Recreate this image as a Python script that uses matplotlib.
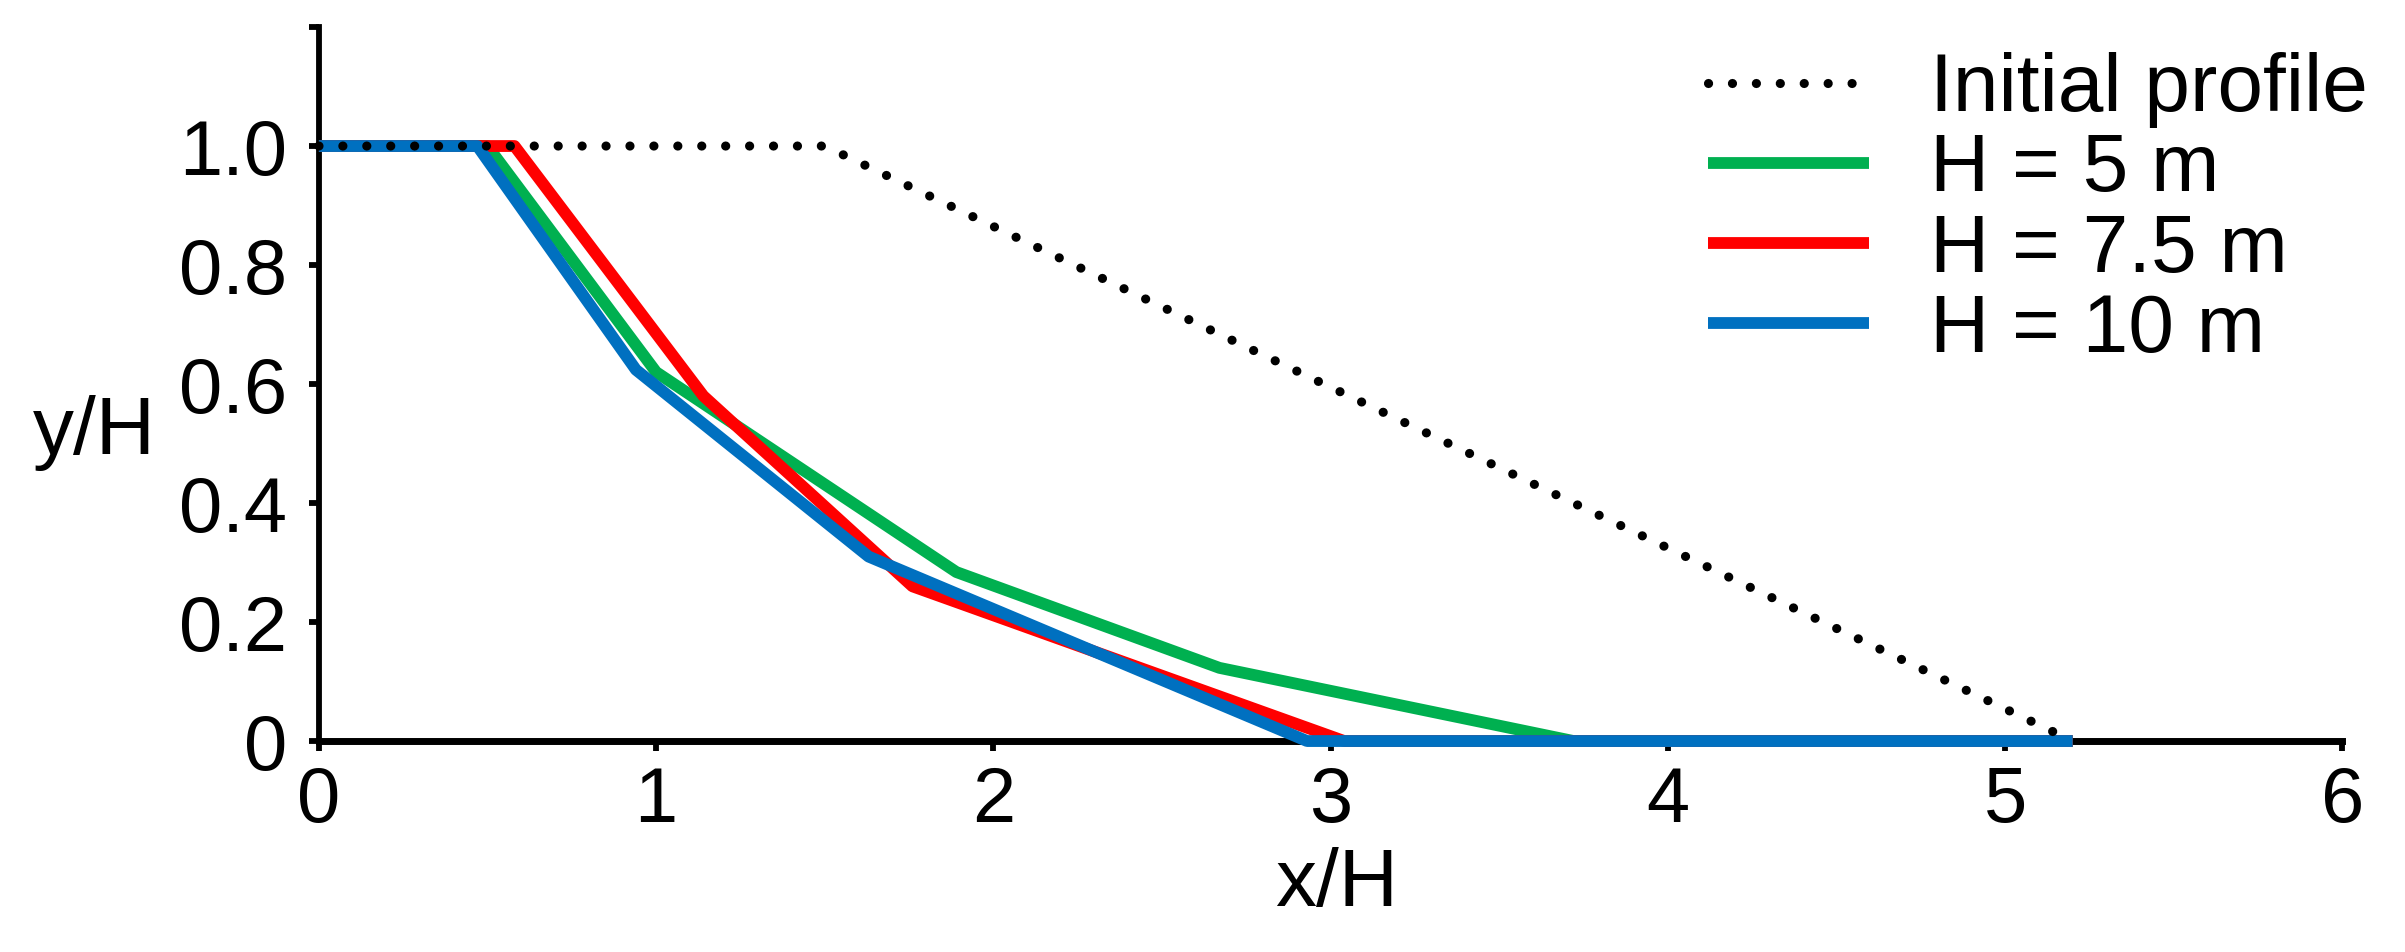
import matplotlib
matplotlib.use("Agg")
import matplotlib.pyplot as plt

plt.rcParams['font.family'] = ['Liberation Sans', 'DejaVu Sans']

# Data (x/H, y/H)
init_x = [0.0, 1.5, 5.2]
init_y = [1.0, 1.0, 0.0]

h5_x = [0.0, 0.50, 1.00, 1.89, 2.67, 3.72, 5.2]
h5_y = [1.0, 1.00, 0.62, 0.284, 0.123, 0.0, 0.0]

h75_x = [0.0, 0.58, 1.14, 1.76, 3.04, 5.2]
h75_y = [1.0, 1.00, 0.58, 0.26, 0.0, 0.0]

h10_x = [0.0, 0.47, 0.94, 1.63, 2.93, 5.2]
h10_y = [1.0, 1.00, 0.624, 0.31, 0.0, 0.0]

labels = ["Initial profile", "H = 5 m", "H = 7.5 m", "H = 10 m"]
colors = ["black", "#00B050", "#FF0000", "#0070C0"]

xticks = [0, 1, 2, 3, 4, 5, 6]
yticks = [0, 0.2, 0.4, 0.6, 0.8, 1.0, 1.2]
yticklabels = ["0", "0.2", "0.4", "0.6", "0.8", "1.0", ""]

fig = plt.figure(figsize=(24.05, 9.52), dpi=100)
ax = fig.add_axes([0.1326, 0.2216, 0.974 - 0.1326, 0.9716 - 0.2216])

lw = 8.5
l1, = ax.plot(h5_x, h5_y, color=colors[1], lw=lw, zorder=3, clip_on=False, solid_capstyle='butt')
l2, = ax.plot(h75_x, h75_y, color=colors[2], lw=lw, zorder=4, clip_on=False, solid_capstyle='butt')
l3, = ax.plot(h10_x, h10_y, color=colors[3], lw=lw, zorder=5, clip_on=False, solid_capstyle='butt')
l0, = ax.plot(init_x, init_y, color=colors[0], lw=6.6, linestyle=(0, (0.01, 2.6)),
              dash_capstyle='round', zorder=6, clip_on=False)

ax.set_xlim(0, 6)
ax.set_ylim(0, 1.2)
ax.set_xticks(xticks)
ax.set_xticklabels([str(t) for t in xticks])
ax.set_yticks(yticks)
ax.set_yticklabels(yticklabels)

for s in ['top', 'right']:
    ax.spines[s].set_visible(False)
ax.spines['left'].set_linewidth(4.2)
ax.spines['bottom'].set_linewidth(5.0)
ax.tick_params(axis='both', direction='out', length=7, width=4.2, labelsize=56)
ax.tick_params(axis='x', pad=10)
ax.tick_params(axis='y', pad=16)

ax.set_xlabel("x/H", fontsize=59, va='center', ha='center')
ax.xaxis.set_label_coords(0.503, -0.2017)
ax.set_ylabel("y/H", fontsize=59, rotation=0, va='center', ha='center')
ax.yaxis.set_label_coords(-0.1112, 0.431)

leg = ax.legend([l0, l1, l2, l3], labels, loc='upper right', bbox_to_anchor=(0.9846, 0.945),
                bbox_transform=fig.transFigure, frameon=False, fontsize=59,
                handlelength=1.96, handletextpad=0.75, labelspacing=0.05, borderpad=0.0,
                borderaxespad=0.0)

fig.savefig("out.png", dpi=100)
